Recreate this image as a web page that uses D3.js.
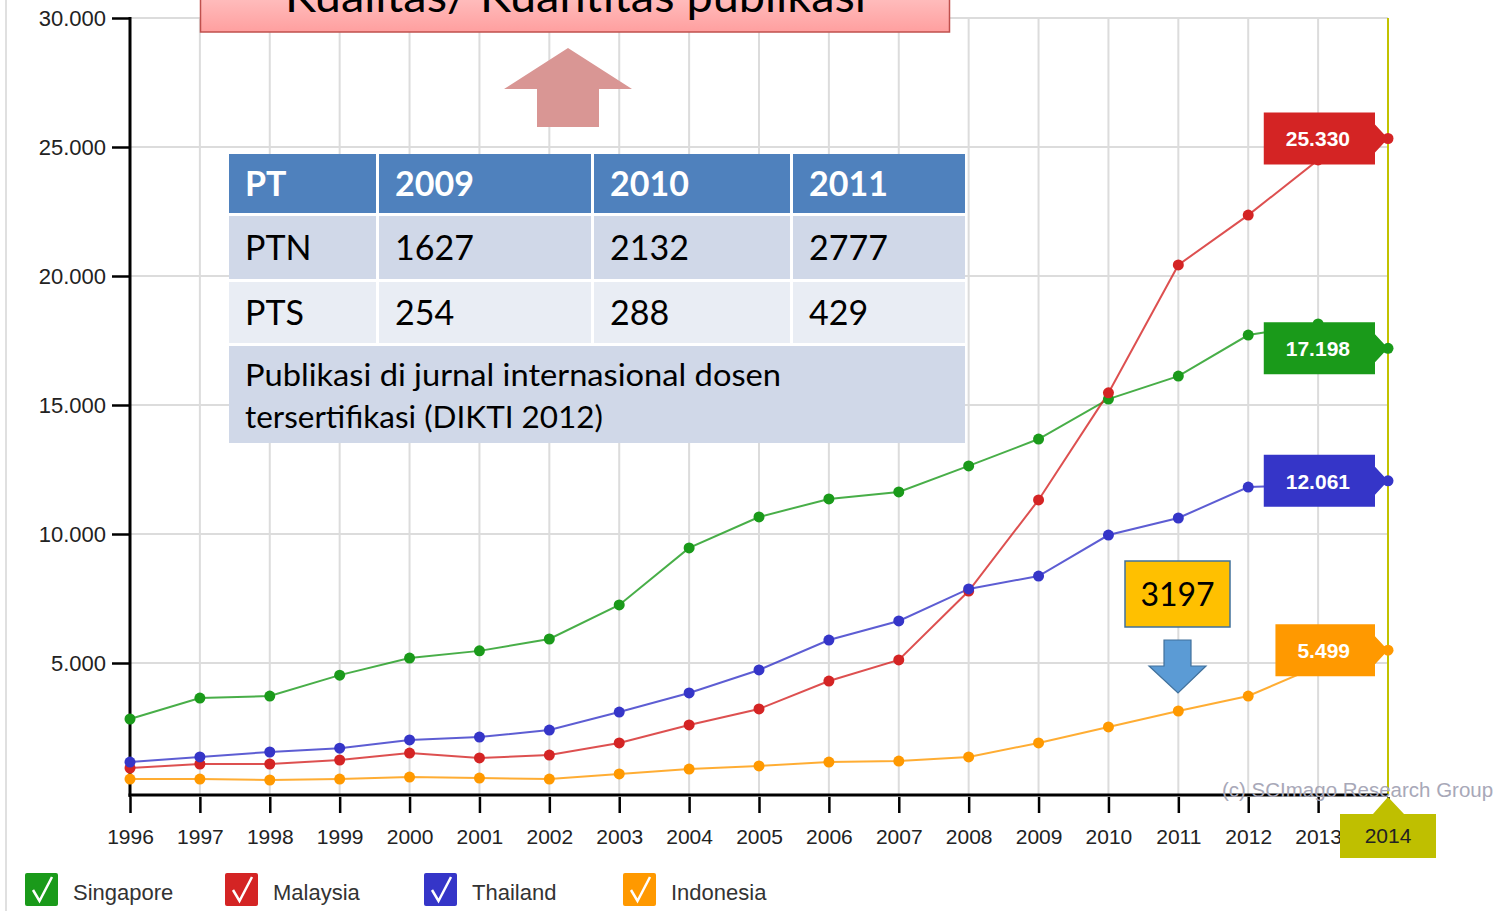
<!DOCTYPE html>
<html><head><meta charset="utf-8">
<script src="https://cdn.jsdelivr.net/npm/d3@7"></script>
<style>html,body{margin:0;padding:0;background:#fff;overflow:hidden}svg{display:block}</style>
</head><body><svg id="c" width="1498" height="911"></svg>
<script>
const years = [1996,1997,1998,1999,2000,2001,2002,2003,2004,2005,2006,2007,2008,2009,2010,2011,2012,2013,2014];
const singapore = [2830,3640,3720,4530,5190,5470,5930,7250,9460,10660,11360,11630,12640,13680,15230,16120,17710,18140,17198];
const malaysia  = [930,1085,1085,1240,1510,1320,1430,1900,2600,3220,4300,5120,7790,11320,15470,20430,22360,24500,25330];
const thailand  = [1160,1360,1550,1700,2020,2130,2400,3100,3840,4730,5890,6630,7870,8370,9960,10620,11820,11900,12061];
const indonesia = [500,500,465,500,580,540,500,700,890,1010,1160,1200,1360,1900,2520,3140,3720,4880,5499];
const seriesNames = ["Singapore","Malaysia","Thailand","Indonesia"];
const seriesColors = ["#1a9a1a","#d42424","#3535c8","#ff9900"];
const yTicks = [5000,10000,15000,20000,25000,30000];
const tableHeader = ["PT","2009","2010","2011"];
const tableRows = [["PTN","1627","2132","2777"],["PTS","254","288","429"]];
const tableNote = ["Publikasi di jurnal internasional dosen","tersertifikasi (DIKTI 2012)"];
const titleText = "Kualitas/ Kuantitas publikasi";
const calloutText = "3197";
const watermark = "(c) SCImago Research Group";

const series = [singapore, malaysia, thailand, indonesia];
const svg = d3.select("#c");
const loc = d3.formatLocale({decimal:",", thousands:".", grouping:[3], currency:["",""]});
const fmt = loc.format(",.0f");

const x = d3.scaleLinear().domain([1996,2014]).range([130,1388]);
const y = d3.scaleLinear().domain([0,30000]).range([792,18]);

// left border line
svg.append("line").attr("x1",6).attr("x2",6).attr("y1",0).attr("y2",911).attr("stroke","#e0e0e0").attr("stroke-width",2);

// grid
const grid = svg.append("g");
grid.selectAll("line.v").data(years).join("line")
  .attr("x1",d=>x(d)).attr("x2",d=>x(d)).attr("y1",y(30000)).attr("y2",795)
  .attr("stroke","#dcdcdc").attr("stroke-width",2);
grid.selectAll("line.h").data(yTicks).join("line").attr("class","h")
  .attr("x1",130).attr("x2",1388).attr("y1",d=>y(d)).attr("y2",d=>y(d))
  .attr("stroke","#dcdcdc").attr("stroke-width",2);

// olive vertical line at last year
svg.append("line").attr("x1",x(2014)).attr("x2",x(2014)).attr("y1",y(30000)).attr("y2",795)
  .attr("stroke","#c2c200").attr("stroke-width",2);

// axes
const yAxis = d3.axisLeft(y).tickValues(yTicks).tickSize(18).tickPadding(6).tickFormat(fmt);
const gy = svg.append("g").attr("transform","translate(130,0)").call(yAxis);
gy.select(".domain").remove();
gy.selectAll(".tick line").attr("stroke","#000").attr("stroke-width",2.5);
gy.selectAll(".tick text").attr("font-family","Liberation Sans, Arial, sans-serif").attr("font-size",22).attr("fill","#222");
svg.append("line").attr("x1",130).attr("x2",130).attr("y1",y(30000)-1).attr("y2",797).attr("stroke","#000").attr("stroke-width",3);

const xAxis = d3.axisBottom(x).tickValues(years).tickSize(16).tickPadding(16).tickFormat(d3.format("d"));
const gx = svg.append("g").attr("transform","translate(0,797)").call(xAxis);
gx.select(".domain").remove();
gx.selectAll(".tick line").attr("stroke","#000").attr("stroke-width",2.5);
gx.selectAll(".tick text").attr("font-family","Liberation Sans, Arial, sans-serif").attr("font-size",21).attr("fill","#222");
svg.append("line").attr("x1",128.5).attr("x2",1388).attr("y1",795).attr("y2",795).attr("stroke","#000").attr("stroke-width",3);

// watermark
svg.append("text").attr("x",1222).attr("y",797).text(watermark)
  .attr("font-family","Liberation Sans, Arial, sans-serif").attr("font-size",20.5).attr("fill","#a8a8b8");

// lines and points
const line = d3.line().x((d,i)=>x(years[i])).y(d=>y(d));
series.forEach((s,k)=>{
  svg.append("path").datum(s).attr("d",line).attr("fill","none")
    .attr("stroke",seriesColors[k]).attr("stroke-width",2).attr("stroke-opacity",0.8);
});
series.forEach((s,k)=>{
  svg.append("g").selectAll("circle").data(s).join("circle")
    .attr("cx",(d,i)=>x(years[i])).attr("cy",d=>y(d)).attr("r",5.5).attr("fill",seriesColors[k]);
});

// value badges at last point
series.forEach((s,k)=>{
  const v = s[s.length-1];
  const px = x(years[years.length-1]), py = y(v);
  const g = svg.append("g");
  const path = g.append("path").attr("fill",seriesColors[k]);
  const t = g.append("text").attr("x",1350).attr("y",py+8).attr("text-anchor","end")
    .attr("font-family","Liberation Sans, Arial, sans-serif").attr("font-size",21).attr("font-weight","bold")
    .attr("fill","#fff").text(fmt(v));
  const w = t.node().getComputedTextLength();
  const left = 1350 - w - 22, right = 1375, top = py-26, bot = py+26;
  path.attr("d",`M${left},${top}H${right}V${py-14}L${px},${py}L${right},${py+14}V${bot}H${left}Z`);
});

// 2014 x badge
{
  const px = x(2014);
  const g = svg.append("g");
  g.append("path").attr("fill","#bfbf00")
    .attr("d",`M${px-48},814H${px-15}L${px},797L${px+16},814H${px+48}V858H${px-48}Z`);
  g.append("text").attr("x",px).attr("y",843).attr("text-anchor","middle")
    .attr("font-family","Liberation Sans, Arial, sans-serif").attr("font-size",21).attr("fill","#222").text("2014");
}

// legend
const lg = svg.append("g");
const legX = [25,225,424,623];
seriesNames.forEach((n,k)=>{
  const g = lg.append("g").attr("transform",`translate(${legX[k]},873)`);
  g.append("rect").attr("width",33).attr("height",33).attr("rx",2).attr("fill",seriesColors[k]);
  g.append("path").attr("d","M8,17 L14.5,28 L27,4").attr("fill","none").attr("stroke","#fff").attr("stroke-width",2.5);
  g.append("text").attr("x",48).attr("y",27).text(n)
    .attr("font-family","Liberation Sans, Arial, sans-serif").attr("font-size",22).attr("fill","#333");
});

// title box
const defs = svg.append("defs");
const grad = defs.append("linearGradient").attr("id","pg").attr("x1",0).attr("x2",0).attr("y1",0).attr("y2",1);
grad.append("stop").attr("offset","0%").attr("stop-color","#ffc4c4");
grad.append("stop").attr("offset","100%").attr("stop-color","#ff9f9f");
svg.append("rect").attr("x",200.5).attr("y",-10).attr("width",749).attr("height",42)
  .attr("fill","url(#pg)").attr("stroke","#c0504d").attr("stroke-width",1.5);
svg.append("text").attr("x",285).attr("y",12).text(titleText)
  .attr("font-family","Lato, 'Open Sans', sans-serif").attr("font-size",44).attr("fill","#000")
  .attr("textLength",581).attr("lengthAdjust","spacingAndGlyphs");

// up arrow
svg.append("path").attr("fill","#d99694")
  .attr("d","M568,48 L632,89 L599,89 L599,127 L537,127 L537,89 L504,89 Z");

// table
const cols = [[229,376],[379,591],[594,790],[793,965]];
const rowsY = [[154,213],[216,279],[282,343]];
const rowFill = ["#4f81bd","#d0d8e8","#e9edf4"];
const tg = svg.append("g");
tg.append("rect").attr("x",229).attr("y",154).attr("width",736).attr("height",289).attr("fill","#fff");
const allRows = [tableHeader, ...tableRows];
allRows.forEach((r,ri)=>{
  r.forEach((c,ci)=>{
    tg.append("rect").attr("x",cols[ci][0]).attr("y",rowsY[ri][0])
      .attr("width",cols[ci][1]-cols[ci][0]).attr("height",rowsY[ri][1]-rowsY[ri][0]).attr("fill",rowFill[ri]);
    tg.append("text").attr("x",cols[ci][0]+16).attr("y",(rowsY[ri][0]+rowsY[ri][1])/2+12).text(c)
      .attr("font-family","Lato, 'Open Sans', sans-serif").attr("font-size",34)
      .attr("font-weight",ri===0?"bold":"normal").attr("fill",ri===0?"#fff":"#000");
  });
});
tg.append("rect").attr("x",229).attr("y",346).attr("width",736).attr("height",97).attr("fill","#d0d8e8");
tableNote.forEach((t,i)=>{
  tg.append("text").attr("x",245).attr("y",386+i*42).text(t)
    .attr("font-family","Lato, 'Open Sans', sans-serif").attr("font-size",31).attr("fill","#000")
    .attr("textLength",i===0?536:358).attr("lengthAdjust","spacingAndGlyphs");
});

// callout 3197
svg.append("rect").attr("x",1125).attr("y",561).attr("width",105).attr("height",66)
  .attr("fill","#ffc000").attr("stroke","#41719c").attr("stroke-width",1.5);
svg.append("text").attr("x",1177.5).attr("y",606).attr("text-anchor","middle").text(calloutText)
  .attr("font-family","Lato, 'Open Sans', sans-serif").attr("font-size",32).attr("fill","#000");
svg.append("path").attr("fill","#5b9bd5").attr("stroke","#41719c").attr("stroke-width",1.2)
  .attr("d","M1164,640 H1191 V666 H1206 L1178,693 L1149,666 H1164 Z");
</script></body></html>
